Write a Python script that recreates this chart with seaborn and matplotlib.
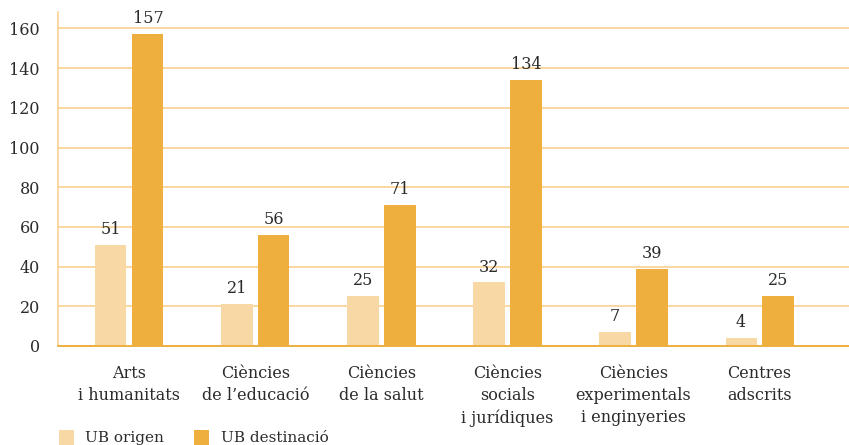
import matplotlib
matplotlib.use("Agg")
import matplotlib.pyplot as plt
import seaborn as sns
import pandas as pd
from matplotlib.patches import Patch

categories = ["Arts\ni humanitats", "Ciències\nde l\u2019educació", "Ciències\nde la salut",
              "Ciències\nsocials\ni jurídiques", "Ciències\nexperimentals\ni enginyeries",
              "Centres\nadscrits"]
series_names = ["UB origen", "UB destinació"]
ub_origen = [51, 21, 25, 32, 7, 4]
ub_destinacio = [157, 56, 71, 134, 39, 25]
yticks = [0, 20, 40, 60, 80, 100, 120, 140, 160]

light = "#F8D9A6"
dark = "#EEAF3E"
grid_c = "#F8CE85"
text_c = "#2b2b2b"

rows = []
for c, a, b in zip(categories, ub_origen, ub_destinacio):
    rows.append({"cat": c, "series": series_names[0], "value": a})
    rows.append({"cat": c, "series": series_names[1], "value": b})
df = pd.DataFrame(rows)

sns.set_theme(style="white")
plt.rcParams["font.family"] = ["DejaVu Serif"]

fs = 11.5
fig = plt.figure(figsize=(8.49, 4.45), dpi=100)
ax = fig.add_axes([58/849, 1-346/445, 1-58/849, (346-12)/445])

sns.barplot(data=df, x="cat", y="value", hue="series", order=categories,
            hue_order=series_names, palette=[light, dark], width=0.587, gap=0.16,
            ax=ax, legend=False, saturation=1, linewidth=0, edgecolor="none")

for cont in ax.containers:
    ax.bar_label(cont, padding=5, fontsize=fs, color=text_c)

ax.set_xlim(-0.567, 5.71)
ax.set_ylim(0, 168.3)
ax.set_yticks(yticks)
ax.set_yticklabels([str(v) for v in yticks], fontsize=fs, color=text_c)
ax.set_xlabel("")
ax.set_ylabel("")
ax.tick_params(axis="x", length=0, pad=14, labelsize=fs, labelcolor=text_c)
ax.tick_params(axis="y", length=8, width=1.1, color=grid_c, pad=5)
for lab in ax.get_xticklabels():
    lab.set_linespacing(1.37)

ax.grid(axis="y", color=grid_c, linewidth=1.1)
ax.grid(axis="x", visible=False)
ax.set_axisbelow(True)
for s in ["top", "right", "bottom"]:
    ax.spines[s].set_visible(False)
ax.spines["left"].set_color(grid_c)
ax.spines["left"].set_linewidth(1.1)
ax.axhline(0, color=dark, linewidth=1.4, zorder=5, clip_on=False)

handles = [Patch(facecolor=light, edgecolor="none"), Patch(facecolor=dark, edgecolor="none")]
fig.legend(handles, series_names, loc="lower left", bbox_to_anchor=(45/849, -0.032),
           ncol=2, frameon=False, fontsize=11, handlelength=1.0, handleheight=1.1,
           columnspacing=1.95, handletextpad=0.75, labelcolor=text_c)

fig.savefig("out.png", dpi=100)
